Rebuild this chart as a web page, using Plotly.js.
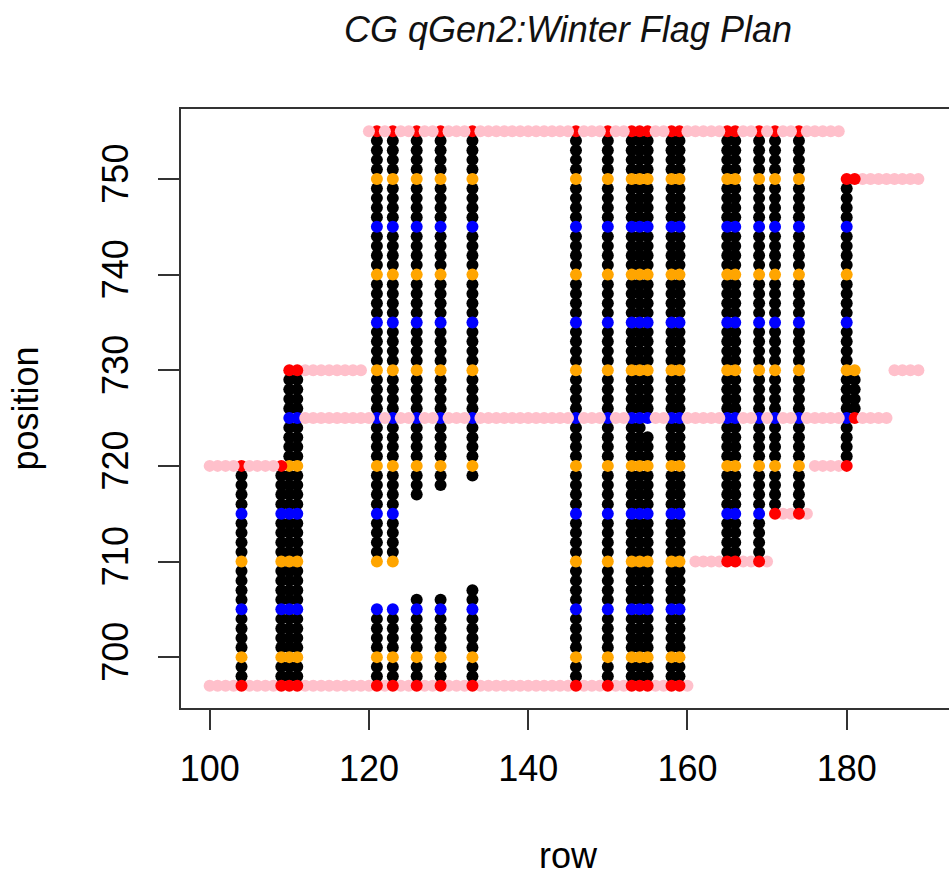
<!DOCTYPE html>
<html>
<head>
<meta charset="utf-8">
<script src="https://cdn.plot.ly/plotly-3.0.1.min.js"></script>
<style>
html, body { margin: 0; padding: 0; overflow: hidden; background: #fff; }
#chart { width: 960px; height: 878px; }
</style>
</head>
<body>
<div id="chart"></div>
<script>
// ---- data ----
// planted rows (x) and their position runs (y), inclusive
const colRows = [104, 109, 110, 111, 121, 123, 126, 129, 133, 146, 150, 153, 154, 155, 158, 159, 165, 166, 169, 171, 174, 180, 181];
const colRuns = [
  [[697, 720]],
  [[697, 720]],
  [[697, 730]],
  [[697, 730]],
  [[697, 705], [710, 755]],
  [[697, 705], [710, 755]],
  [[697, 706], [717, 755]],
  [[697, 706], [718, 755]],
  [[697, 707], [719, 755]],
  [[697, 755]],
  [[697, 755]],
  [[697, 755]],
  [[697, 755]],
  [[697, 723], [725, 755]],
  [[697, 755]],
  [[697, 755]],
  [[710, 755]],
  [[710, 755]],
  [[710, 755]],
  [[715, 755]],
  [[715, 755]],
  [[720, 750]],
  [[725, 730], [750, 750]]
];
// flag colours by position
const orangePositions = [700, 710, 720, 730, 740, 750];
const bluePositions = [705, 715, 725, 735, 745];
// red flags: [position, rows]
const redFlags = [
  [697, [104, 109, 110, 111, 121, 123, 126, 129, 133, 146, 150, 153, 154, 155, 158, 159]],
  [755, [121, 123, 126, 129, 133, 146, 150, 153, 154, 155, 158, 159, 165, 166, 169, 171, 174]],
  [720, [104, 109, 180]],
  [730, [110, 111]],
  [710, [165, 166, 169]],
  [715, [171, 174]],
  [750, [180, 181]],
  [725, [181]]
];
// pink border lines: [position, first row, last row]
const pinkUnderLines = [[697, 100, 160], [710, 161, 170], [715, 171, 175], [720, 176, 179], [730, 112, 119], [730, 186, 189], [750, 182, 189]];
const pinkOverLines = [[755, 120, 179], [725, 112, 185], [720, 100, 108]];
const xTicks = [100, 120, 140, 160, 180];
const yTicks = [700, 710, 720, 730, 740, 750];

// ---- build marks ----
const isRed = {};
redFlags.forEach(([p, rows]) => rows.forEach(r => { isRed[r + '_' + p] = true; }));
const occupied = {};
const groups = { black: { x: [], y: [] }, orange: { x: [], y: [] }, blue: { x: [], y: [] }, red: { x: [], y: [] } };
colRows.forEach((r, i) => {
  colRuns[i].forEach(([lo, hi]) => {
    for (let p = lo; p <= hi; p++) {
      occupied[r + '_' + p] = true;
      let g = 'black';
      if (isRed[r + '_' + p]) g = 'red';
      else if (orangePositions.includes(p)) g = 'orange';
      else if (bluePositions.includes(p)) g = 'blue';
      groups[g].x.push(r); groups[g].y.push(p);
    }
  });
});
function pinkPoints(lines) {
  const x = [], y = [];
  lines.forEach(([p, a, b]) => {
    for (let r = a; r <= b; r++) {
      if (!occupied[r + '_' + p]) { x.push(r); y.push(p); }
    }
  });
  return { x, y };
}
const pu = pinkPoints(pinkUnderLines);
const po = pinkPoints(pinkOverLines);
const MS = 12;
function tr(pts, color) {
  return { type: 'scatter', mode: 'markers', x: pts.x, y: pts.y, hoverinfo: 'x+y',
    marker: { color: color, size: MS, line: { width: 0 } }, showlegend: false };
}
const traces = [
  tr(pu, '#FFC0CB'),
  tr(groups.black, '#000000'),
  tr(groups.orange, '#FFA500'),
  tr(groups.blue, '#0000FF'),
  tr(groups.red, '#FF0000'),
  tr(po, '#FFC0CB')
];

const font = { family: 'Liberation Sans, Arial, sans-serif', color: '#000' };
const layout = {
  width: 960, height: 878,
  margin: { l: 181, r: 5, t: 109, b: 170 },
  paper_bgcolor: '#fff', plot_bgcolor: '#fff',
  font: font,
  title: { text: '<i>CG qGen2:Winter Flag Plan</i>', font: { family: font.family, size: 36, color: '#111' },
    x: 0.5, xref: 'paper', xanchor: 'center', y: 1 - 29 / 878, yref: 'container', yanchor: 'middle' },
  xaxis: {
    range: [96.4, 193.6], tickvals: xTicks, ticktext: xTicks.map(String),
    showgrid: false, zeroline: false, ticks: 'outside', ticklen: 20, tickwidth: 2, tickcolor: '#333',
    showline: true, mirror: true, linecolor: '#333', linewidth: 2,
    tickfont: { family: font.family, size: 36, color: '#000' }, ticklabelstandoff: 8,
    title: { text: 'row', font: { family: font.family, size: 36, color: '#000' }, standoff: 55 }
  },
  yaxis: {
    range: [694.68, 757.32], tickvals: yTicks, ticktext: yTicks.map(String), tickangle: -90,
    showgrid: false, zeroline: false, ticks: 'outside', ticklen: 21, tickwidth: 2, tickcolor: '#333',
    showline: true, mirror: true, linecolor: '#333', linewidth: 2,
    tickfont: { family: font.family, size: 36, color: '#000' }, ticklabelstandoff: 16,
    title: { text: 'position', font: { family: font.family, size: 36, color: '#000' }, standoff: 45 }
  }
};
Plotly.newPlot('chart', traces, layout, { displayModeBar: false, staticPlot: true });
</script>
</body>
</html>
